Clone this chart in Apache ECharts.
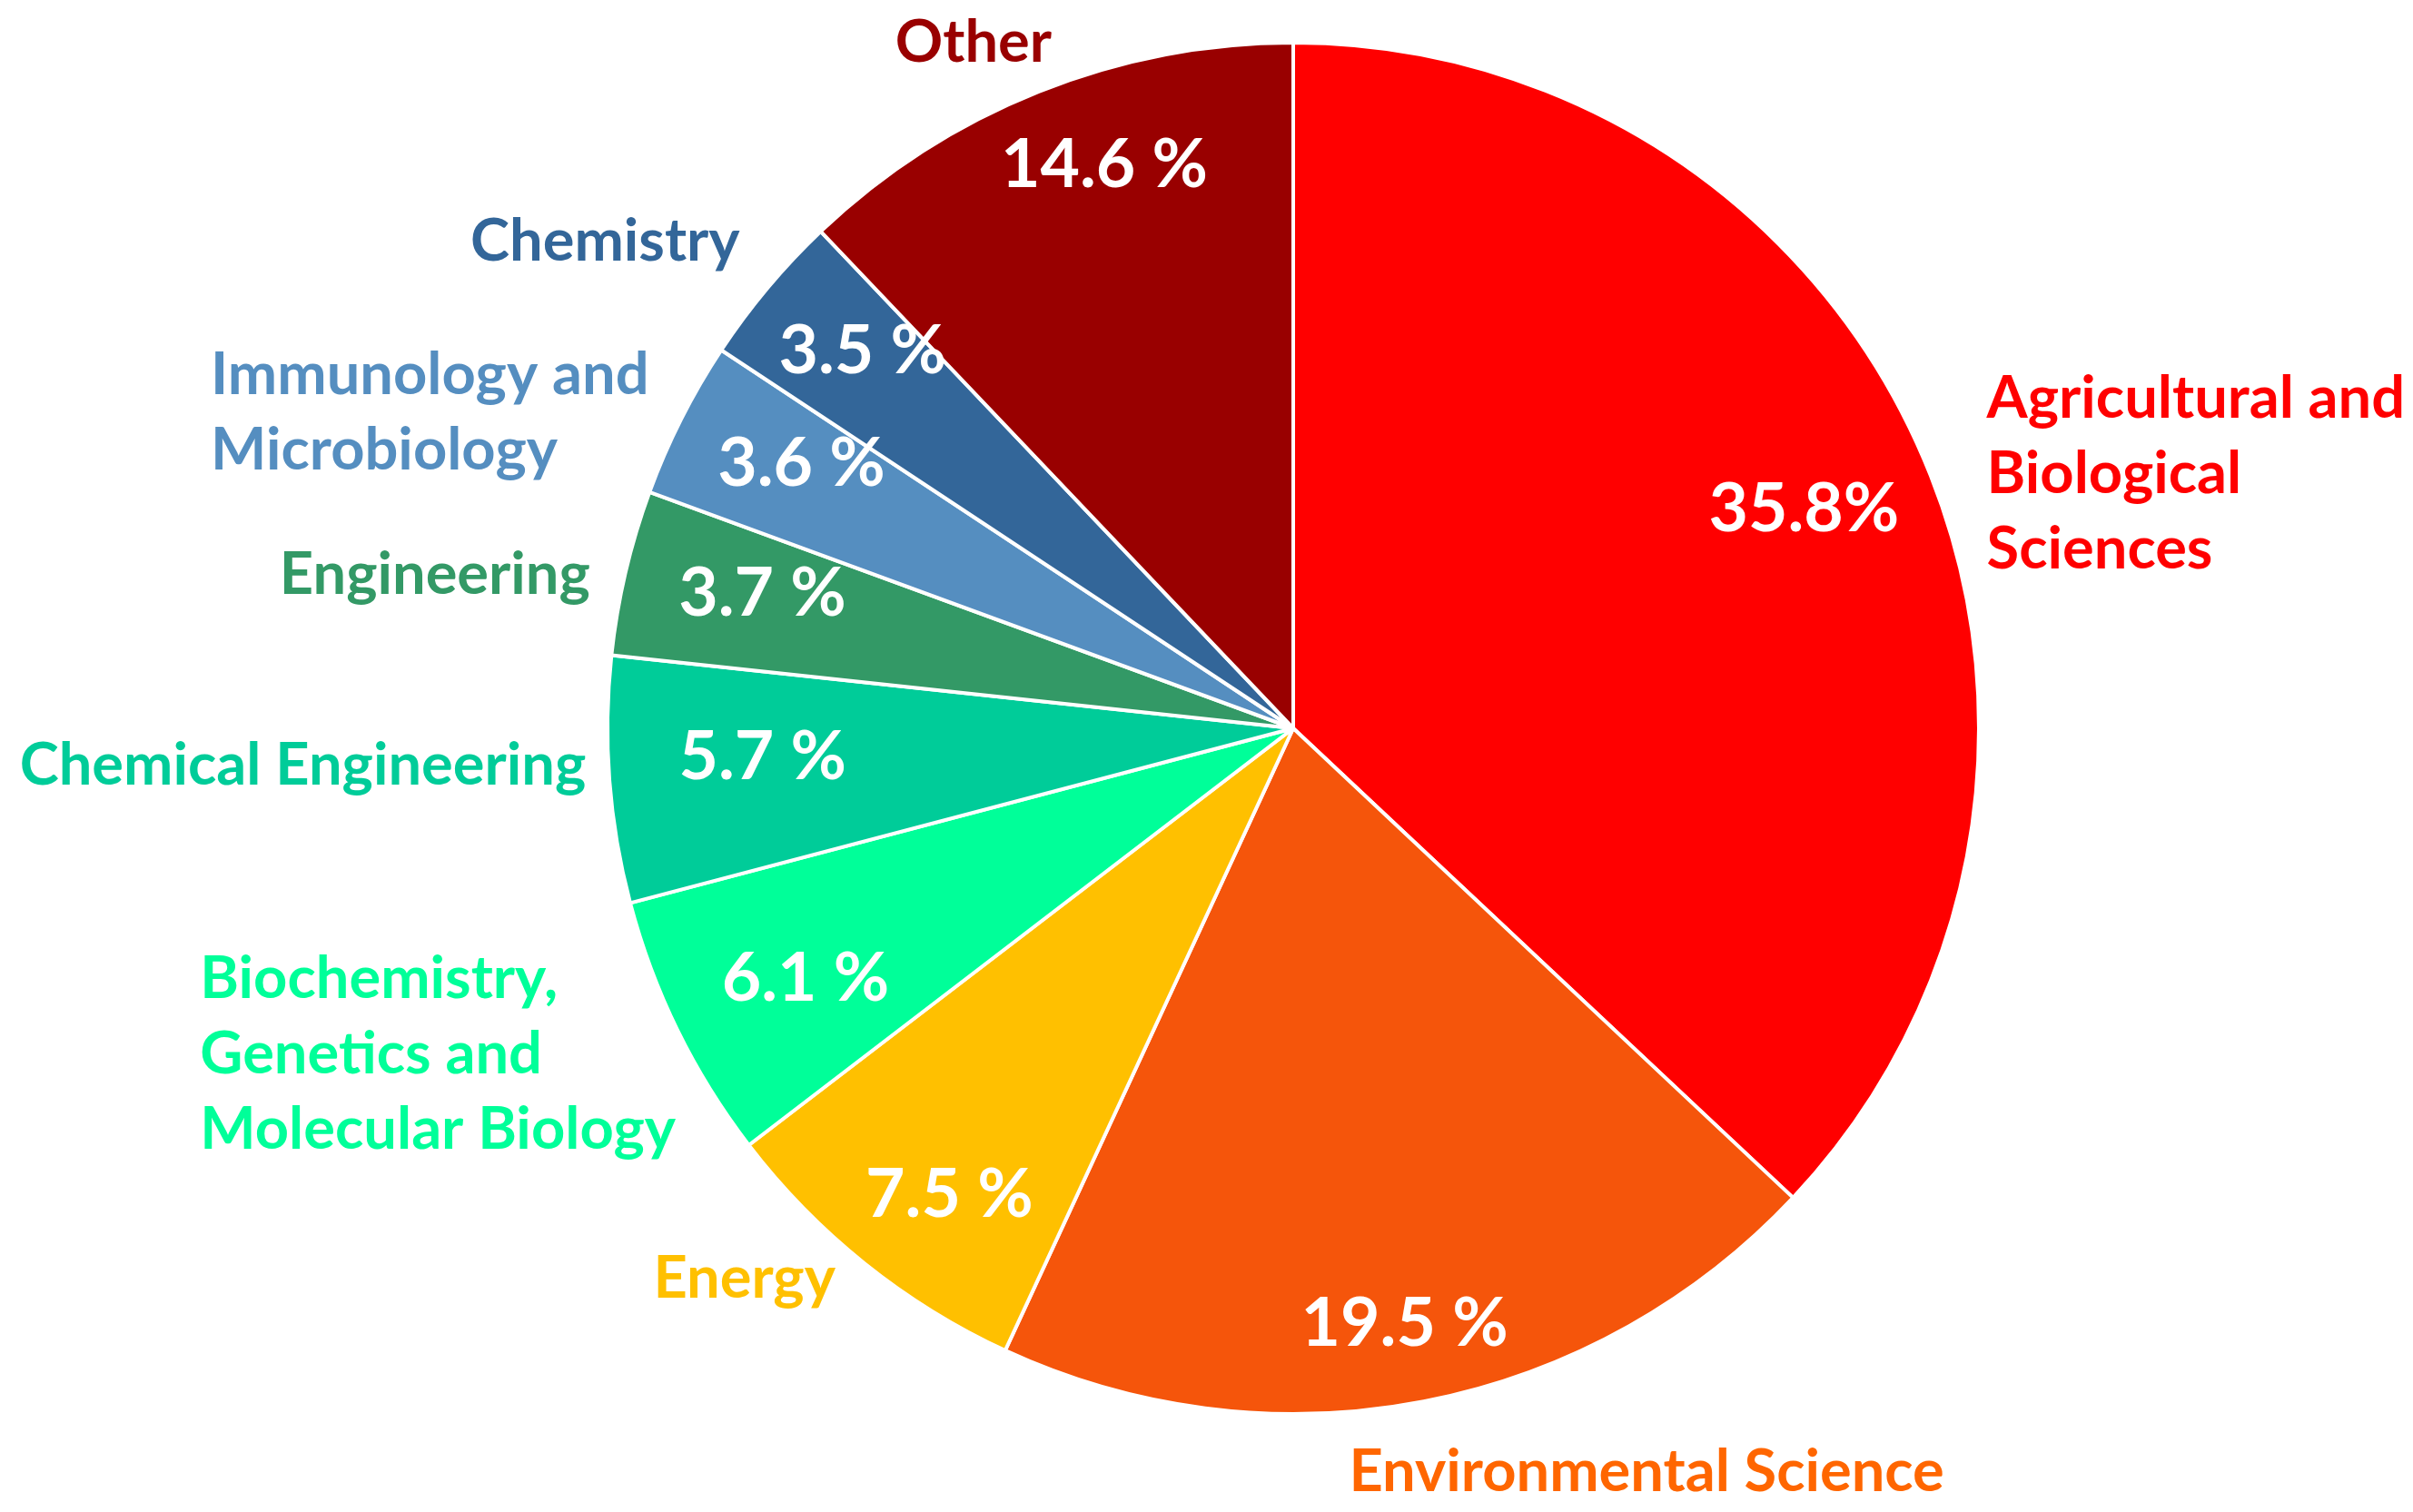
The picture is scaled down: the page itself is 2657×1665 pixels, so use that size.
<!DOCTYPE html>
<html lang="en">

<head>
    <meta charset="UTF-8">
    <meta name="viewport" content="width=device-width, initial-scale=1.0">
    <title>Subject areas</title>
    <script src="https://cdn.jsdelivr.net/npm/echarts@6/dist/echarts.min.js"></script>
    <style>
        body { margin: 0; background: #fff; }
    </style>
</head>

<body>
    <div id="main" style="width: 2657px;height:1665px;"></div>
    <script type="text/javascript">
        // Subject areas, clockwise from 12 o'clock
        const categories = [
            'Agricultural and\nBiological\nSciences',
            'Environmental Science',
            'Energy',
            'Biochemistry,\nGenetics and\nMolecular Biology',
            'Chemical Engineering',
            'Engineering',
            'Immunology and\nMicrobiology',
            'Chemistry',
            'Other'
        ];
        // Slice sizes (%) as drawn
        const sliceShares = [37.0, 19.9, 7.7, 6.3, 5.8, 3.9, 3.7, 3.6, 12.1];
        // Percentages as printed on the slices
        const shareLabels = ['35.8%', '19.5 %', '7.5 %', '6.1 %', '5.7 %', '3.7 %', '3.6 %', '3.5 %', '14.6 %'];

        const sliceColors = ['#ff0000', '#f5550b', '#ffc000', '#00ff99', '#00cc99', '#339966', '#558ec0', '#336699', '#990000'];
        const nameColors = ['#ff0000', '#ff6600', '#ffc000', '#00ff99', '#00cc99', '#339966', '#558ec0', '#336699', '#990000'];

        // small hand nudges (px) so labels sit where the original put them
        const nameNudge = [[34, 36], [-90, 39], [-7, -14], [34, 9], [14, -19], [0, 12], [0, 11], [0, -25], [29, -17]];
        const shareNudge = [[-14, 8], [3, 39], [14, 24], [27, 0], [42, -15], [27, -5], [19, -8], [7, -12], [25, -37]];

        const FONT = 'Lato, "Open Sans", sans-serif';
        const CX = 1424, CY = 802, R = 755;

        let myChart = echarts.init(document.getElementById('main'));

        const pieData = categories.map((name, i) => ({
            name: name,
            value: sliceShares[i],
            itemStyle: { color: sliceColors[i] },
            label: { color: nameColors[i], rich: { t: { color: nameColors[i] } } }
        }));

        let options = {
            animation: false,
            backgroundColor: '#fff',
            series: [
                {
                    // the pie itself, with the category names outside
                    type: 'pie',
                    center: [CX, CY],
                    radius: R,
                    startAngle: 90,
                    clockwise: true,
                    silent: true,
                    avoidLabelOverlap: false,
                    itemStyle: { borderColor: '#fff', borderWidth: 4 },
                    label: {
                        show: true,
                        position: 'outside',
                        distanceToLabelLine: 0,
                        overflow: 'none',
                        fontFamily: FONT,
                        fontWeight: 'bold',
                        fontSize: 65,
                        lineHeight: 83,
                        formatter: p => p.name.split('\n').map(l => '{t|' + l + '}').join('\n'),
                        rich: {
                            t: { align: 'left', fontFamily: FONT, fontWeight: 'bold', fontSize: 65, lineHeight: 83 }
                        }
                    },
                    labelLine: { show: false, length: 40, length2: 0 },
                    labelLayout: p => ({ dx: nameNudge[p.dataIndex][0], dy: nameNudge[p.dataIndex][1] }),
                    emphasis: { disabled: true },
                    data: pieData
                },
                {
                    // transparent ring that carries the white percentages
                    type: 'pie',
                    center: [CX, CY],
                    radius: [495, R],
                    startAngle: 90,
                    clockwise: true,
                    silent: true,
                    avoidLabelOverlap: false,
                    itemStyle: { color: 'transparent', borderWidth: 0 },
                    label: {
                        show: true,
                        position: 'inside',
                        width: 320,
                        overflow: 'none',
                        color: '#fff',
                        fontFamily: FONT,
                        fontWeight: 'bold',
                        fontSize: 75,
                        formatter: p => shareLabels[p.dataIndex]
                    },
                    labelLine: { show: false },
                    labelLayout: p => ({ dx: shareNudge[p.dataIndex][0], dy: shareNudge[p.dataIndex][1] }),
                    emphasis: { disabled: true },
                    data: categories.map((name, i) => ({ name: name, value: sliceShares[i] }))
                }
            ]
        };

        myChart.setOption(options);
    </script>
</body>

</html>
